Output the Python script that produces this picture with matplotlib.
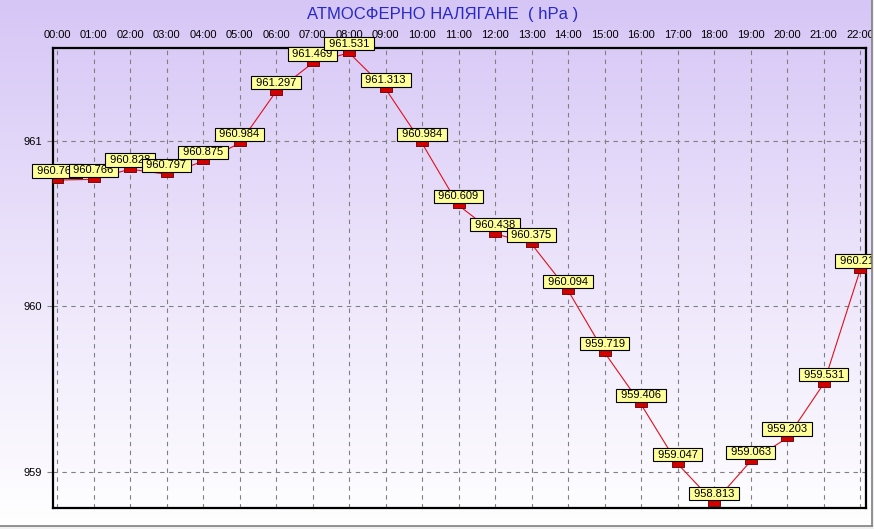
import numpy as np
import matplotlib
matplotlib.use("Agg")
import matplotlib.pyplot as plt
from matplotlib.colors import LinearSegmentedColormap
from matplotlib.lines import Line2D
from matplotlib.patches import Rectangle

plt.rcParams['font.family'] = ['Liberation Sans', 'DejaVu Sans']

hours = ["00:00", "01:00", "02:00", "03:00", "04:00", "05:00", "06:00", "07:00",
         "08:00", "09:00", "10:00", "11:00", "12:00", "13:00", "14:00", "15:00",
         "16:00", "17:00", "18:00", "19:00", "20:00", "21:00", "22:00"]
pressure = [960.762, 960.766, 960.828, 960.797, 960.875, 960.984, 961.297, 961.469,
            961.531, 961.313, 960.984, 960.609, 960.438, 960.375, 960.094, 959.719,
            959.406, 959.047, 958.813, 959.063, 959.203, 959.531, 960.219]
y_ticks = [959, 960, 961]

W, H = 874, 529
fig = plt.figure(figsize=(W / 100, H / 100), dpi=100)

# background gradient over the whole window
bg = fig.add_axes([0, 0, 1, 1], zorder=-10)
cmap = LinearSegmentedColormap.from_list("bg", ["#d6c6f6", "#ece4fb", "#ffffff"])
bg.imshow(np.linspace(0, 1, 256).reshape(-1, 1), aspect="auto", cmap=cmap,
          extent=[0, 1, 0, 1])
bg.set_axis_off()

ax = fig.add_axes([53 / W, 21 / H, 813 / W, 460 / H])
ax.patch.set_alpha(0)

x = np.arange(len(hours))
rect = [(-1, -0.5), (1, -0.5), (1, 0.5), (-1, 0.5), (-1, -0.5)]
ax.plot(x, pressure, color="#e0101c", lw=0.8, zorder=3,
        marker=rect, markersize=9, markerfacecolor="#d40000",
        markeredgecolor="#600000", markeredgewidth=0.6)

for i, v in enumerate(pressure):
    ax.annotate(f" {v:.3f} ", (x[i], v), xytext=(0, 4), textcoords="offset pixels",
                ha="center", va="bottom", fontsize=8, zorder=10 + i,
                annotation_clip=False,
                bbox=dict(boxstyle="square,pad=0.15", fc="#ffff99", ec="black", lw=0.8))

ax.set_xlim(-0.11, 22.16)
ax.set_ylim(958.78, 961.56)
ax.set_xticks(x)
ax.set_xticklabels(hours, fontsize=8)
ax.xaxis.tick_top()
ax.tick_params(axis="x", length=0, pad=6)
ax.set_yticks(y_ticks)
ax.set_yticklabels([str(t) for t in y_ticks], fontsize=8)
ax.tick_params(axis="y", length=4, color="#808080", pad=4)

ax.grid(True, color="#808080", linestyle=(0, (4, 4)), lw=0.8)
for s in ax.spines.values():
    s.set_linewidth(1.6)
    s.set_color("black")

fig.text(0.506, 0.9735, "АТМОСФЕРНО НАЛЯГАНЕ  ( hPa )", color="#2828c8",
         fontsize=12, ha="center", va="center")

# window border at right and bottom
fig.add_artist(Rectangle((872 / W, 0), 2 / W, 1, transform=fig.transFigure,
                         fc="#f0f0f0", ec="none", zorder=50))
fig.add_artist(Rectangle((0, 0), 1, 3 / H, transform=fig.transFigure,
                         fc="#f0f0f0", ec="none", zorder=50))
fig.add_artist(Line2D([872 / W, 872 / W], [3 / H, 1], transform=fig.transFigure,
                      color="#808080", lw=1.2, zorder=51))
fig.add_artist(Line2D([0, 872 / W], [3 / H, 3 / H], transform=fig.transFigure,
                      color="#808080", lw=1.2, zorder=51))

plt.savefig("out.png", dpi=100)
plt.close()
